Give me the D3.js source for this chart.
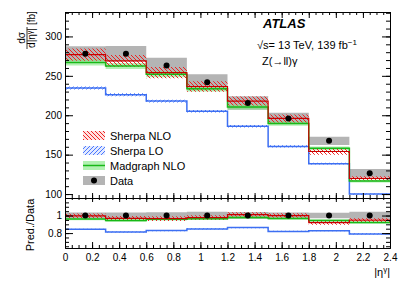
<html>
<head>
<script src="https://d3js.org/d3.v7.min.js"></script>
<style>
    body { margin: 0; background: white; }
    text { font-family: "Liberation Sans", Arial, sans-serif; fill: black; }
</style>
</head>
<body>
<script>
    // bin edges in |eta^gamma|
    let edges = [0, 0.3, 0.6, 0.9, 1.2, 1.5, 1.8, 2.1, 2.4];
    // measured cross sections [fb] and relative uncertainty
    let dataVals = [278, 278, 263, 242, 215.5, 196, 167.5, 126.5];
    let dataErr = [0.034, 0.035, 0.038, 0.042, 0.04, 0.036, 0.032, 0.042];
    // predictions
    let sherpaNLO = [277, 269, 254, 236.5, 218, 196, 154, 120];
    let sherpaNLOErr = [0.028, 0.028, 0.028, 0.028, 0.026, 0.026, 0.026, 0.022];
    let madgraphNLO = [267, 262.5, 252, 233.5, 210.5, 189.5, 158, 116.5];
    let madgraphErr = [0.015, 0.015, 0.015, 0.015, 0.015, 0.015, 0.015, 0.015];
    let sherpaLO = [234.5, 226, 218, 205, 186, 160.5, 138.5, 100];
    let sherpaLOErr = [0.008, 0.008, 0.008, 0.008, 0.008, 0.008, 0.008, 0.008];

    let mainTicks = [100, 150, 200, 250, 300];
    let ratioTicks = [0.8, 1];
    let xTicks = [0, 0.2, 0.4, 0.6, 0.8, 1, 1.2, 1.4, 1.6, 1.8, 2, 2.2, 2.4];

    let width = 411, height = 284;
    let pLeft = 65, pRight = 390, pTop = 12, pSplit = 198, pBottom = 248;

    let svg = d3.select("body").append("svg")
        .attr("width", width)
        .attr("height", height);

    let defs = svg.append("defs");
    function hatch(id, color, d) {
        defs.append("pattern")
            .attr("id", id)
            .attr("patternUnits", "userSpaceOnUse")
            .attr("width", 4).attr("height", 4)
            .append("path")
            .attr("d", d)
            .attr("fill", "none")
            .attr("stroke", color)
            .attr("stroke-width", 1);
    }
    hatch("redHatch", "#ee2222", "M-1,-1 L5,5 M-1,3 L1,5 M3,-1 L5,1");
    hatch("blueHatch", "#4a78ff", "M-1,5 L5,-1 M-1,1 L1,-1 M3,5 L5,3");

    let x = d3.scaleLinear().domain([0, 2.4]).range([pLeft, pRight]);
    let yMain = d3.scaleLinear().domain([95, 331]).range([pSplit, pTop]);
    let yRatio = d3.scaleLinear().domain([0.63, 1.2]).range([pBottom, pSplit]);

    function steps(vals) {
        let pts = vals.map((v, i) => ({x: edges[i], v: v}));
        pts.push({x: edges[edges.length - 1], v: vals[vals.length - 1]});
        return pts;
    }

    function drawPanel(g, y, norm) {
        // norm: function(i) returning divisor for bin i
        let line = d3.line().curve(d3.curveStepAfter)
            .x(d => x(d.x)).y(d => y(d.v));
        let area = d3.area().curve(d3.curveStepAfter)
            .x(d => x(d.x)).y0(d => y(d.lo)).y1(d => y(d.hi));

        function band(vals, errs) {
            let pts = vals.map((v, i) => {
                let c = v / norm(i);
                return {x: edges[i], lo: c * (1 - errs[i]), hi: c * (1 + errs[i])};
            });
            let last = pts[pts.length - 1];
            pts.push({x: edges[edges.length - 1], lo: last.lo, hi: last.hi});
            return pts;
        }
        function scaled(vals) {
            return steps(vals.map((v, i) => v / norm(i)));
        }

        // data uncertainty
        g.append("path").datum(band(dataVals, dataErr))
            .attr("d", area).attr("fill", "#b4b4b4");
        // madgraph band
        g.append("path").datum(band(madgraphNLO, madgraphErr))
            .attr("d", area).attr("fill", "#7ee87e").attr("opacity", 0.6);
        g.append("path").datum(band(sherpaLO, sherpaLOErr))
            .attr("d", area).attr("fill", "url(#blueHatch)");
        g.append("path").datum(band(sherpaNLO, sherpaNLOErr))
            .attr("d", area).attr("fill", "url(#redHatch)");

        g.append("path").datum(scaled(sherpaLO))
            .attr("d", line).attr("fill", "none")
            .attr("stroke", "#3d6ff2").attr("stroke-width", 1.5);
        g.append("path").datum(scaled(madgraphNLO))
            .attr("d", line).attr("fill", "none")
            .attr("stroke", "#18b818").attr("stroke-width", 1.5);
        g.append("path").datum(scaled(sherpaNLO))
            .attr("d", line).attr("fill", "none")
            .attr("stroke", "#c80000").attr("stroke-width", 1.2);

        g.selectAll(".pt").data(dataVals).enter()
            .append("circle")
            .attr("cx", (d, i) => x((edges[i] + edges[i + 1]) / 2))
            .attr("cy", (d, i) => y(d / norm(i)))
            .attr("r", 3)
            .attr("fill", "black");
    }

    let gMain = svg.append("g");
    drawPanel(gMain, yMain, i => 1);
    let gRatio = svg.append("g");
    drawPanel(gRatio, yRatio, i => dataVals[i]);

    // frames and ticks
    function axisStyle(sel) {
        sel.selectAll("text").style("font-size", "10px")
            .style("font-family", "'Liberation Sans', Arial, sans-serif");
        sel.selectAll("line").attr("stroke", "black");
        sel.select(".domain").attr("stroke", "black");
    }
    function ticksOn(axisFn, scale, pos, major, minor, lenMaj, lenMin, labels) {
        let gMaj = svg.append("g").attr("transform", pos)
            .call(axisFn(scale).tickValues(major).tickSize(-lenMaj).tickPadding(3)
                .tickFormat(labels ? d3.format("") : ""));
        axisStyle(gMaj);
        let gMin = svg.append("g").attr("transform", pos)
            .call(axisFn(scale).tickValues(minor).tickSize(-lenMin).tickFormat(""));
        gMin.select(".domain").remove();
        gMin.selectAll("line").attr("stroke", "black");
        return gMaj;
    }

    let mainMinor = d3.range(100, 331, 10);
    let ratioMinor = d3.range(0.65, 1.201, 0.05);
    let xMinor = d3.range(0, 2.401, 0.05);

    ticksOn(d3.axisLeft, yMain, "translate(" + pLeft + ",0)", mainTicks, mainMinor, 8, 4, true);
    ticksOn(d3.axisRight, yMain, "translate(" + pRight + ",0)", mainTicks, mainMinor, 8, 4, false);
    ticksOn(d3.axisTop, x, "translate(0," + pTop + ")", xTicks, xMinor, 6, 3, false);
    ticksOn(d3.axisBottom, x, "translate(0," + pSplit + ")", xTicks, xMinor, 5, 3, false);
    ticksOn(d3.axisTop, x, "translate(0," + pSplit + ")", xTicks, xMinor, 4, 2, false);
    ticksOn(d3.axisLeft, yRatio, "translate(" + pLeft + ",0)", ratioTicks, ratioMinor, 8, 4, true);
    ticksOn(d3.axisRight, yRatio, "translate(" + pRight + ",0)", ratioTicks, ratioMinor, 8, 4, false);
    let xb = ticksOn(d3.axisBottom, x, "translate(0," + pBottom + ")", xTicks, xMinor, 6, 3, true);
    xb.selectAll("text").attr("y", 6);

    // legend
    let legend = [
        {name: "Sherpa NLO", kind: "red"},
        {name: "Sherpa LO", kind: "blue"},
        {name: "Madgraph NLO", kind: "green"},
        {name: "Data", kind: "data"}
    ];
    let lg = svg.append("g");
    legend.forEach((e, i) => {
        let cy = 135.5 + i * 15;
        let sx = 83, sw = 22, sh = 9;
        if (e.kind == "red") {
            lg.append("rect").attr("x", sx).attr("y", cy - sh / 2).attr("width", sw).attr("height", sh)
                .attr("fill", "#ffe0e0");
            lg.append("rect").attr("x", sx).attr("y", cy - sh / 2).attr("width", sw).attr("height", sh)
                .attr("fill", "url(#redHatch)");
        } else if (e.kind == "blue") {
            lg.append("rect").attr("x", sx).attr("y", cy - sh / 2).attr("width", sw).attr("height", sh)
                .attr("fill", "#e3eaff");
            lg.append("rect").attr("x", sx).attr("y", cy - sh / 2).attr("width", sw).attr("height", sh)
                .attr("fill", "url(#blueHatch)");
        } else if (e.kind == "green") {
            lg.append("rect").attr("x", sx).attr("y", cy - sh / 2).attr("width", sw).attr("height", sh)
                .attr("fill", "#7ee87e").attr("opacity", 0.6);
            lg.append("line").attr("x1", sx).attr("x2", sx + sw).attr("y1", cy).attr("y2", cy)
                .attr("stroke", "#18b818").attr("stroke-width", 1.5);
        } else {
            lg.append("rect").attr("x", sx).attr("y", cy - sh / 2).attr("width", sw).attr("height", sh)
                .attr("fill", "#b4b4b4");
            lg.append("circle").attr("cx", sx + sw / 2).attr("cy", cy).attr("r", 3).attr("fill", "black");
        }
        lg.append("text").attr("x", 110).attr("y", cy + 4)
            .style("font-size", "11px").text(e.name);
    });

    // labels
    svg.append("text").attr("x", 263).attr("y", 28)
        .style("font-size", "13px").style("font-weight", "bold").style("font-style", "italic")
        .text("ATLAS");
    let lumi = svg.append("text").attr("x", 257).attr("y", 49).style("font-size", "11px");
    lumi.append("tspan").text("\u221As= 13 TeV, 139 fb");
    lumi.append("tspan").attr("dy", -4).style("font-size", "8px").text("\u22121");
    svg.append("text").attr("x", 262).attr("y", 65).style("font-size", "11px")
        .text("Z(\u2192ll)\u03B3");

    // y title main
    let yt = svg.append("g").attr("transform", "translate(27,38) rotate(-90)");
    yt.append("text").attr("x", 0).attr("y", -2).attr("text-anchor", "middle")
        .style("font-size", "10px").text("d\u03C3");
    yt.append("line").attr("x1", -11).attr("x2", 11).attr("y1", 0).attr("y2", 0)
        .attr("stroke", "black").attr("stroke-width", 0.8);
    let den = yt.append("text").attr("x", 0).attr("y", 8).attr("text-anchor", "middle")
        .style("font-size", "10px");
    den.append("tspan").text("d|\u03B7");
    den.append("tspan").attr("dy", -3).style("font-size", "7px").text("\u03B3");
    den.append("tspan").attr("dy", 3).text("|");
    yt.append("text").attr("x", 13).attr("y", 8).style("font-size", "10px").text("[fb]");

    // y title ratio
    svg.append("text").attr("transform", "translate(34,225) rotate(-90)")
        .attr("text-anchor", "middle").style("font-size", "11px").text("Pred./Data");

    // x title
    let xt = svg.append("text").attr("x", 390).attr("y", 276).attr("text-anchor", "end")
        .style("font-size", "11px");
    xt.append("tspan").text("|\u03B7");
    xt.append("tspan").attr("dy", -4).style("font-size", "8px").text("\u03B3");
    xt.append("tspan").attr("dy", 4).text("|");
</script>
</body>
</html>
